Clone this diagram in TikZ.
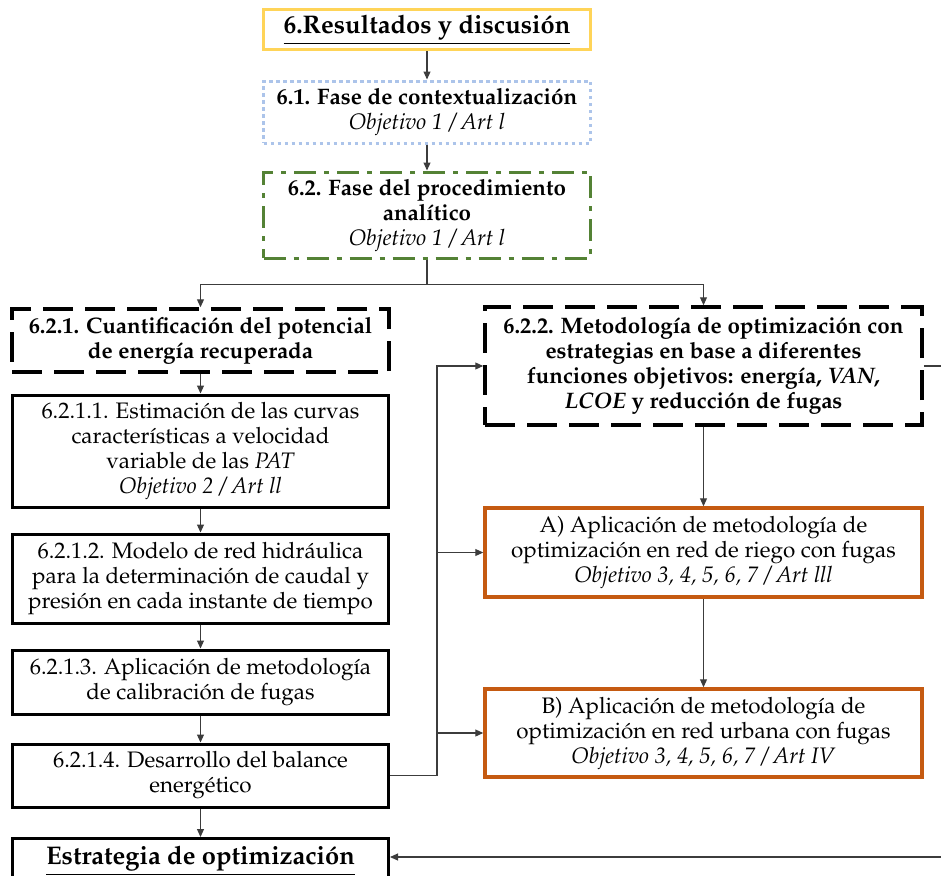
\documentclass[tikz,border=0pt]{standalone}
\usepackage[T1]{fontenc}
\usepackage{mathpazo}
\usetikzlibrary{arrows.meta}

\definecolor{goldline}{RGB}{255,212,88}
\definecolor{paleblue}{RGB}{172,196,234}
\definecolor{leafgreen}{RGB}{84,130,53}
\definecolor{rust}{RGB}{197,90,17}
\definecolor{wire}{RGB}{60,60,60}

\tikzset{
  box/.style={draw, rectangle, align=center, inner sep=0pt, line width=3pt,
    font=\fontsize{22.4}{25}\selectfont},
  titlebox/.style={box, draw=goldline, font=\fontsize{25.5}{28}\selectfont\bfseries},
  dotbox/.style={box, draw=paleblue, dash pattern=on 3.5pt off 3.5pt},
  dashdotbox/.style={box, draw=leafgreen, dash pattern=on 22pt off 8pt on 5pt off 8pt},
  dashbox/.style={box, draw=black, line width=3.5pt, dash pattern=on 30pt off 12pt, font=\fontsize{22.4}{25}\selectfont\bfseries},
  stepbox/.style={box, draw=black},
  appbox/.style={box, draw=rust, line width=3.5pt},
  link/.style={draw=wire, line width=1.1pt},
  conn/.style={link, -{Triangle[length=8pt,width=7pt]}},
}

\begin{document}
\begin{tikzpicture}[x=1pt,y=-1pt]
\clip (0,0) rectangle (941,875);

% top chain
\node[titlebox, minimum width=327, minimum height=40] (res) at (427,30)
  {\underline{6.Resultados y discusión}};
\node[dotbox, minimum width=327, minimum height=62] (ctx) at (427,112)
  {\textbf{6.1. Fase de contextualización}\\\textit{Objetivo 1 / Art l}};
\node[dashdotbox, minimum width=327, minimum height=86] (ana) at (427,215)
  {\textbf{6.2. Fase del procedimiento}\\\textbf{analítico}\\\textit{Objetivo 1 / Art l}};

% two branches
\node[dashbox, minimum width=377, minimum height=63] (pot) at (200.5,340.5)
  {6.2.1. Cuantificación del potencial\\de energía recuperada};
\node[dashbox, minimum width=437, minimum height=118] (opt) at (703.5,366)
  {6.2.2. Metodología de optimización con\\estrategias en base a diferentes\\funciones objetivos: energía, \textit{VAN},\\\textit{LCOE} y reducción de fugas};

% left column
\node[stepbox, minimum width=376, minimum height=112] (s1) at (200.5,451)
  {6.2.1.1. Estimación de las curvas\\características a velocidad\\variable de las \textit{PAT}\\\textit{Objetivo 2 / Art ll}};
\node[stepbox, minimum width=376, minimum height=89] (s2) at (200.5,578.5)
  {6.2.1.2. Modelo de red hidráulica\\para la determinación de caudal y\\presión en cada instante de tiempo};
\node[stepbox, minimum width=376, minimum height=64] (s3) at (200.5,682)
  {6.2.1.3. Aplicación de metodología\\de calibración de fugas};
\node[stepbox, minimum width=376, minimum height=63] (s4) at (200.5,775.5)
  {6.2.1.4. Desarrollo del balance\\energético};
\node[stepbox, anchor=north, minimum width=376, inner ysep=0pt, text height=26pt, text depth=30pt,
  font=\fontsize{25.5}{28}\selectfont\bfseries] (strat) at (200.5,837)
  {\underline{Estrategia de optimización}};

% right column
\node[appbox, minimum width=437, minimum height=89] (appA) at (703.5,552.5)
  {A) Aplicación de metodología de\\optimización en red de riego con fugas\\\textit{Objetivo 3, 4, 5, 6, 7 / Art lll}};
\node[appbox, minimum width=437, minimum height=88] (appB) at (703.5,733)
  {B) Aplicación de metodología de\\optimización en red urbana con fugas\\\textit{Objetivo 3, 4, 5, 6, 7 / Art IV}};

% connectors
\draw[conn] (res) -- (ctx);
\draw[conn] (ctx) -- (ana);
\draw[link] (ana.south) -- ++(0,25) coordinate (split);
\draw[conn] (split) -| (pot.north);
\draw[conn] (split) -| (opt.north);

\draw[conn] (pot) -- (s1);
\draw[conn] (s1) -- (s2);
\draw[conn] (s2) -- (s3);
\draw[conn] (s3) -- (s4);
\draw[conn] (s4) -- (strat.north);

\draw[conn] (opt) -- (appA);
\draw[conn] (appA) -- (appB);

\coordinate (trunk) at (437,0);
\draw[conn] (s4.east) -- (s4.east -| trunk) |- (opt.west);
\draw[conn] (trunk |- appA.west) -- (appA.west);
\draw[conn] (trunk |- appB.west) -- (appB.west);

\coordinate (edgeA) at (941,366);
\coordinate (edgeB) at (941,857);
\draw[link] (opt.east) -- (edgeA);
\draw[conn] (edgeB) -- (strat.east |- edgeB);
\end{tikzpicture}
\end{document}
